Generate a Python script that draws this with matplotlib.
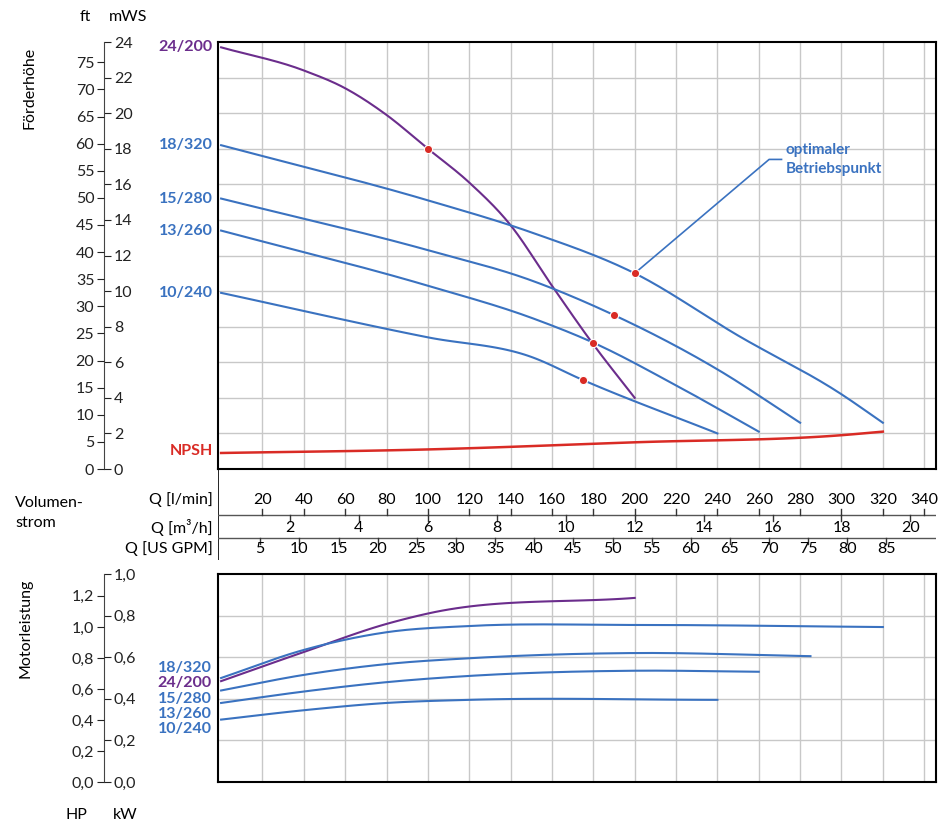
import matplotlib
matplotlib.use("Agg")
import matplotlib.pyplot as plt
import numpy as np

plt.rcParams['font.family'] = ['Lato', 'DejaVu Sans']

BLUE = '#3a72c0'
PURPLE = '#6b2d8c'
RED = '#d92b25'
GRID = '#c8c8c8'

# ---- data (Q in l/min, head in mWS, power in kW) ----
pumps = ['24/200', '18/320', '15/280', '13/260', '10/240']
pump_colors = [PURPLE, BLUE, BLUE, BLUE, BLUE]

q_24 = [0, 40, 60, 80, 100, 120, 140, 160, 180, 200]
h_24 = [23.7, 22.4, 21.4, 19.9, 18.0, 16.1, 13.7, 10.3, 7.0, 4.0]
q_18 = [0, 100, 150, 200, 250, 300, 320]
h_18 = [18.2, 15.1, 13.3, 11.0, 7.5, 4.2, 2.6]
q_15 = [0, 100, 150, 190, 240, 280]
h_15 = [15.2, 12.3, 10.6, 8.65, 5.6, 2.6]
q_13 = [0, 100, 150, 180, 220, 260]
h_13 = [13.4, 10.3, 8.5, 7.1, 4.7, 2.1]
q_10 = [0, 100, 150, 175, 240]
h_10 = [9.9, 7.4, 6.3, 5.0, 2.0]
q_npsh = [0, 100, 200, 300, 320]
h_npsh = [0.9, 1.1, 1.5, 1.9, 2.1]

opt_q = [100, 200, 190, 180, 175]
opt_h = [18.0, 11.0, 8.65, 7.1, 5.0]

pq_24 = [0, 40, 80, 100, 200]
p_24 = [0.485, 0.625, 0.76, 0.81, 0.885]
pq_18 = [0, 40, 80, 120, 200, 320]
p_18 = [0.50, 0.635, 0.72, 0.75, 0.755, 0.745]
pq_15 = [0, 40, 80, 120, 200, 285]
p_15 = [0.44, 0.515, 0.567, 0.595, 0.62, 0.605]
pq_13 = [0, 40, 80, 120, 200, 260]
p_13 = [0.38, 0.435, 0.48, 0.51, 0.535, 0.53]
pq_10 = [0, 40, 80, 120, 240]
p_10 = [0.30, 0.345, 0.38, 0.395, 0.395]

head_q = [q_24, q_18, q_15, q_13, q_10]
head_h = [h_24, h_18, h_15, h_13, h_10]
pow_q = [pq_24, pq_18, pq_15, pq_13, pq_10]
pow_p = [p_24, p_18, p_15, p_13, p_10]

lmin_ticks = list(range(20, 341, 20))
m3h_ticks = list(range(2, 21, 2))
gpm_ticks = list(range(5, 86, 5))

W, H = 940, 827
fig = plt.figure(figsize=(9.4, 8.27), dpi=100)

def box(x0, y0, x1, y1):
    return [x0 / W, 1 - y1 / H, (x1 - x0) / W, (y1 - y0) / H]

XMIN, XMAX = -1.5, 345.7

def smooth(q, v):
    q = np.asarray(q, float); v = np.asarray(v, float)
    m = np.gradient(v, q)
    xs, ys = [], []
    for i in range(len(q) - 1):
        h = q[i + 1] - q[i]
        t = np.linspace(0, 1, 30)
        h00 = 2*t**3 - 3*t**2 + 1; h10 = t**3 - 2*t**2 + t
        h01 = -2*t**3 + 3*t**2; h11 = t**3 - t**2
        xs.append(q[i] + t*h)
        ys.append(h00*v[i] + h10*h*m[i] + h01*v[i+1] + h11*h*m[i+1])
    return np.concatenate(xs), np.concatenate(ys)

def scale_axes(rect, ylim_r, ticks_r, labels_r, ylim_l, ticks_l, labels_l):
    a = fig.add_axes(rect)
    a.set_ylim(*ylim_r)
    b = a.twinx()
    b.set_ylim(*ylim_l)
    for k in ['top', 'bottom', 'right']:
        a.spines[k].set_visible(False)
    for k in ['top', 'bottom', 'right', 'left']:
        b.spines[k].set_visible(False)
    a.spines['left'].set_color('#444444')
    a.set_xticks([])
    a.yaxis.tick_right()
    a.set_yticks(ticks_r); a.set_yticklabels(labels_r)
    b.yaxis.tick_left()
    b.set_yticks(ticks_l); b.set_yticklabels(labels_l)
    for ax_ in (a, b):
        ax_.tick_params(axis='y', direction='out', length=5, labelsize=11.5,
                        colors='#222222', pad=2)
    return a, b

# ---- head chart ----
ax = fig.add_axes(box(218, 42, 936, 469))
ax.set_xlim(XMIN, XMAX); ax.set_ylim(0, 24)
ax.set_xticks(lmin_ticks); ax.set_yticks(range(2, 24, 2))
ax.grid(True, color=GRID, lw=1)
ax.tick_params(length=0, labelbottom=False, labelleft=False)
for s in ax.spines.values():
    s.set_linewidth(1.5)
for q, h, c in zip(head_q, head_h, pump_colors):
    xs, ys = smooth(q, h)
    ax.plot(xs, ys, color=c, lw=1.5)
xs, ys = smooth(q_npsh, h_npsh)
ax.plot(xs, ys, color=RED, lw=1.8)
ax.scatter(opt_q, opt_h, s=35, color=RED, edgecolor='white', lw=0.8, zorder=5)
ax.plot([200, 265, 271], [11.0, 17.4, 17.4], color=BLUE, lw=1.2, clip_on=False)
ax.text(273, 17.4, 'optimaler\nBetriebspunkt', color=BLUE, fontsize=11,
        fontweight='bold', va='center', ha='left', linespacing=1.4)

head_label_y = [23.7, 18.2, 15.2, 13.4, 9.9]
for name, yv, c in zip(pumps, head_label_y, pump_colors):
    ax.text(-4, yv, name, color=c, fontsize=11.5, fontweight='bold',
            ha='right', va='center', clip_on=False)
ax.text(-4, 1.0, 'NPSH', color=RED, fontsize=11.5, fontweight='bold',
        ha='right', va='center', clip_on=False)

mws = list(range(0, 25, 2))
ft = list(range(0, 76, 5))
scale_axes(box(104, 42, 104.1, 469), (0, 24), mws, [str(v) for v in mws],
           (0, 24 * 3.281), ft, [str(v) for v in ft])
fig.text(85 / W, 1 - 17 / H, 'ft', fontsize=11.5, ha='center', va='center')
fig.text(128 / W, 1 - 17 / H, 'mWS', fontsize=11.5, ha='center', va='center')
fig.text(30 / W, 1 - 88 / H, 'Förderhöhe', fontsize=11.5, rotation=90, ha='center', va='center')

# ---- flow table ----
tb = fig.add_axes(box(218, 469, 936, 560))
tb.set_xlim(XMIN, XMAX); tb.set_ylim(560, 469)
tb.axis('off')
tb.plot([XMIN, XMIN], [469, 560], color='black', lw=1.2)
L2M = 1000 / 60.0
L2G = 3.78541
tb.plot([-35, XMAX], [515, 515], color='#555555', lw=1)
tb.plot([-35, XMAX], [538, 538], color='#555555', lw=1)
for v in lmin_ticks:
    tb.plot([v, v], [509, 515], color='#333333', lw=1)
    tb.text(v, 500, str(v), ha='center', va='center', fontsize=11.5)
for v in m3h_ticks:
    tb.plot([v * L2M, v * L2M], [515, 521], color='#333333', lw=1)
    tb.text(v * L2M, 528, str(v), ha='center', va='center', fontsize=11.5)
for v in gpm_ticks:
    tb.plot([v * L2G, v * L2G], [538, 544], color='#333333', lw=1)
    tb.text(v * L2G, 549, str(v), ha='center', va='center', fontsize=11.5)
tb.text(-4, 500, 'Q [l/min]', ha='right', va='center', fontsize=11.5)
tb.text(-4, 527, 'Q [m³/h]', ha='right', va='center', fontsize=11.5)
tb.text(-4, 549, 'Q [US GPM]', ha='right', va='center', fontsize=11.5)
fig.text(15 / W, 1 - 513 / H, 'Volumen-\nstrom', fontsize=11.5, ha='left', va='center', linespacing=1.5)

# ---- power chart ----
ap = fig.add_axes(box(218, 574, 936, 782))
ap.set_xlim(XMIN, XMAX); ap.set_ylim(0, 1.0)
ap.set_xticks(lmin_ticks); ap.set_yticks([0.2, 0.4, 0.6, 0.8])
ap.grid(True, color=GRID, lw=1)
ap.tick_params(length=0, labelbottom=False, labelleft=False)
for s in ap.spines.values():
    s.set_linewidth(1.5)
for q, p, c in zip(pow_q, pow_p, pump_colors):
    xs, ys = smooth(q, p)
    ap.plot(xs, ys, color=c, lw=1.5)

plab = ['18/320', '24/200', '15/280', '13/260', '10/240']
pcol = [BLUE, PURPLE, BLUE, BLUE, BLUE]
plab_y = [668, 683, 699, 714, 729]
for name, yp, c in zip(plab, plab_y, pcol):
    fig.text(212 / W, 1 - yp / H, name, color=c, fontsize=11.5, fontweight='bold',
             ha='right', va='center')

kw = np.round(np.arange(0, 1.01, 0.2), 1)
hp = np.round(np.arange(0, 1.21, 0.2), 1)
scale_axes(box(104, 574, 104.1, 782), (0, 1.0), kw,
           [f'{v:.1f}'.replace('.', ',') for v in kw],
           (0, 1.341), hp, [f'{v:.1f}'.replace('.', ',') for v in hp])
fig.text(76 / W, 1 - 815 / H, 'HP', fontsize=11.5, ha='center', va='center')
fig.text(125 / W, 1 - 815 / H, 'kW', fontsize=11.5, ha='center', va='center')
fig.text(25 / W, 1 - 628 / H, 'Motorleistung', fontsize=11.5, rotation=90, ha='center', va='center')

fig.savefig('out.png', dpi=100)
